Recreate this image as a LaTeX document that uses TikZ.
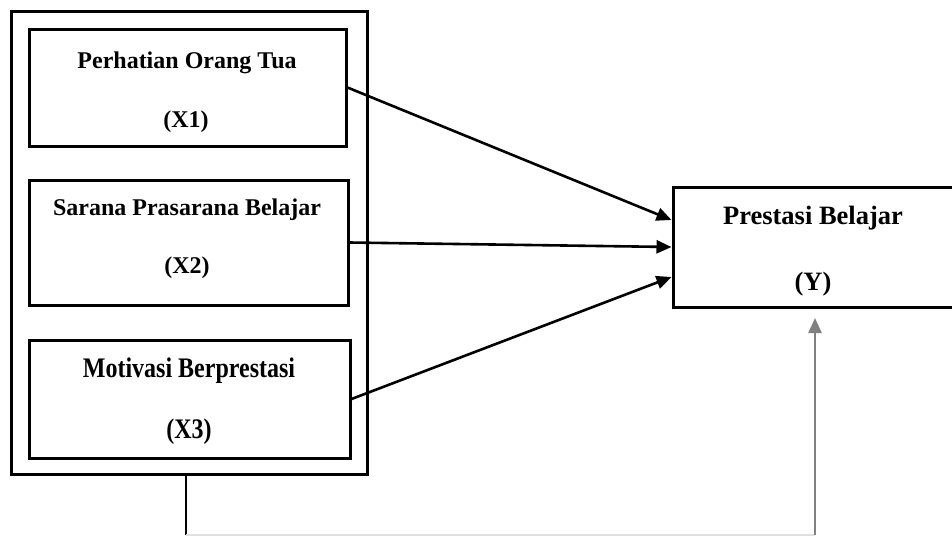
\documentclass[tikz,border=0pt]{standalone}
\usepackage{fontspec}
\setmainfont{Liberation Serif}
\usetikzlibrary{arrows.meta,calc}
\begin{document}
\begin{tikzpicture}[x=1pt,y=-1pt,
  box/.style={draw=black,line width=3pt,rectangle,inner sep=0pt},
  lbl/.style={font=\bfseries\fontsize{24}{28}\selectfont,inner sep=0pt},
  lbly/.style={font=\bfseries\fontsize{26.5}{30}\selectfont,inner sep=0pt},
  arr/.style={line width=2.6pt,-{Triangle[length=15pt,width=13pt]}}]
\useasboundingbox (0,0) rectangle (952,536);
\node[box,minimum width=356pt,minimum height=463pt] (outer) at (189,242.5) {};
\node[box,minimum width=317pt,minimum height=117pt] (b1) at (187.5,87.5) {};
\node[box,minimum width=319pt,minimum height=125pt] (b2) at (188.5,242.5) {};
\node[box,minimum width=321pt,minimum height=118pt] (b3) at (189.5,399) {};
\node[box,minimum width=290pt,minimum height=120pt] (y) at (818,247) {};
\node[lbl] (t1a) at (187,63) {Perhatian Orang Tua};
\node[lbl] (t1b) at (186,122) {(X1)};
\node[lbl] (t2a) at (187,210) {Sarana Prasarana Belajar};
\node[lbl] (t2b) at (187,268) {(X2)};
\node[lbl] (t3a) at (189,371) {\scalebox{1}[1.18]{Motivasi Berprestasi}};
\node[lbl] (t3b) at (189,432) {\scalebox{1}[1.18]{(X3)}};
\node[lbly] (tya) at (813,218) {Prestasi Belajar};
\node[lbly] (tyb) at (813,284) {(Y)};
\coordinate (e1) at ($(y.west)+(0,-27)$);
\coordinate (e3) at ($(y.west)+(0,30)$);
\draw[arr] (b1.east) -- (e1);
\draw[arr] (b2.east) -- (y.west);
\draw[arr] (b3.east) -- (e3);
\coordinate (c1) at (186,535);
\coordinate (c2) at (815,535);
\coordinate (ytip) at (815,318);
\draw[black,line width=1.6pt] (outer.south -| c1) -- (c1);
\draw[black!12,line width=1.2pt] (c1) -- (c2);
\draw[black!50,line width=2.4pt,-{Triangle[length=15pt,width=13pt]}] (c2) -- (ytip);
\end{tikzpicture}
\end{document}
